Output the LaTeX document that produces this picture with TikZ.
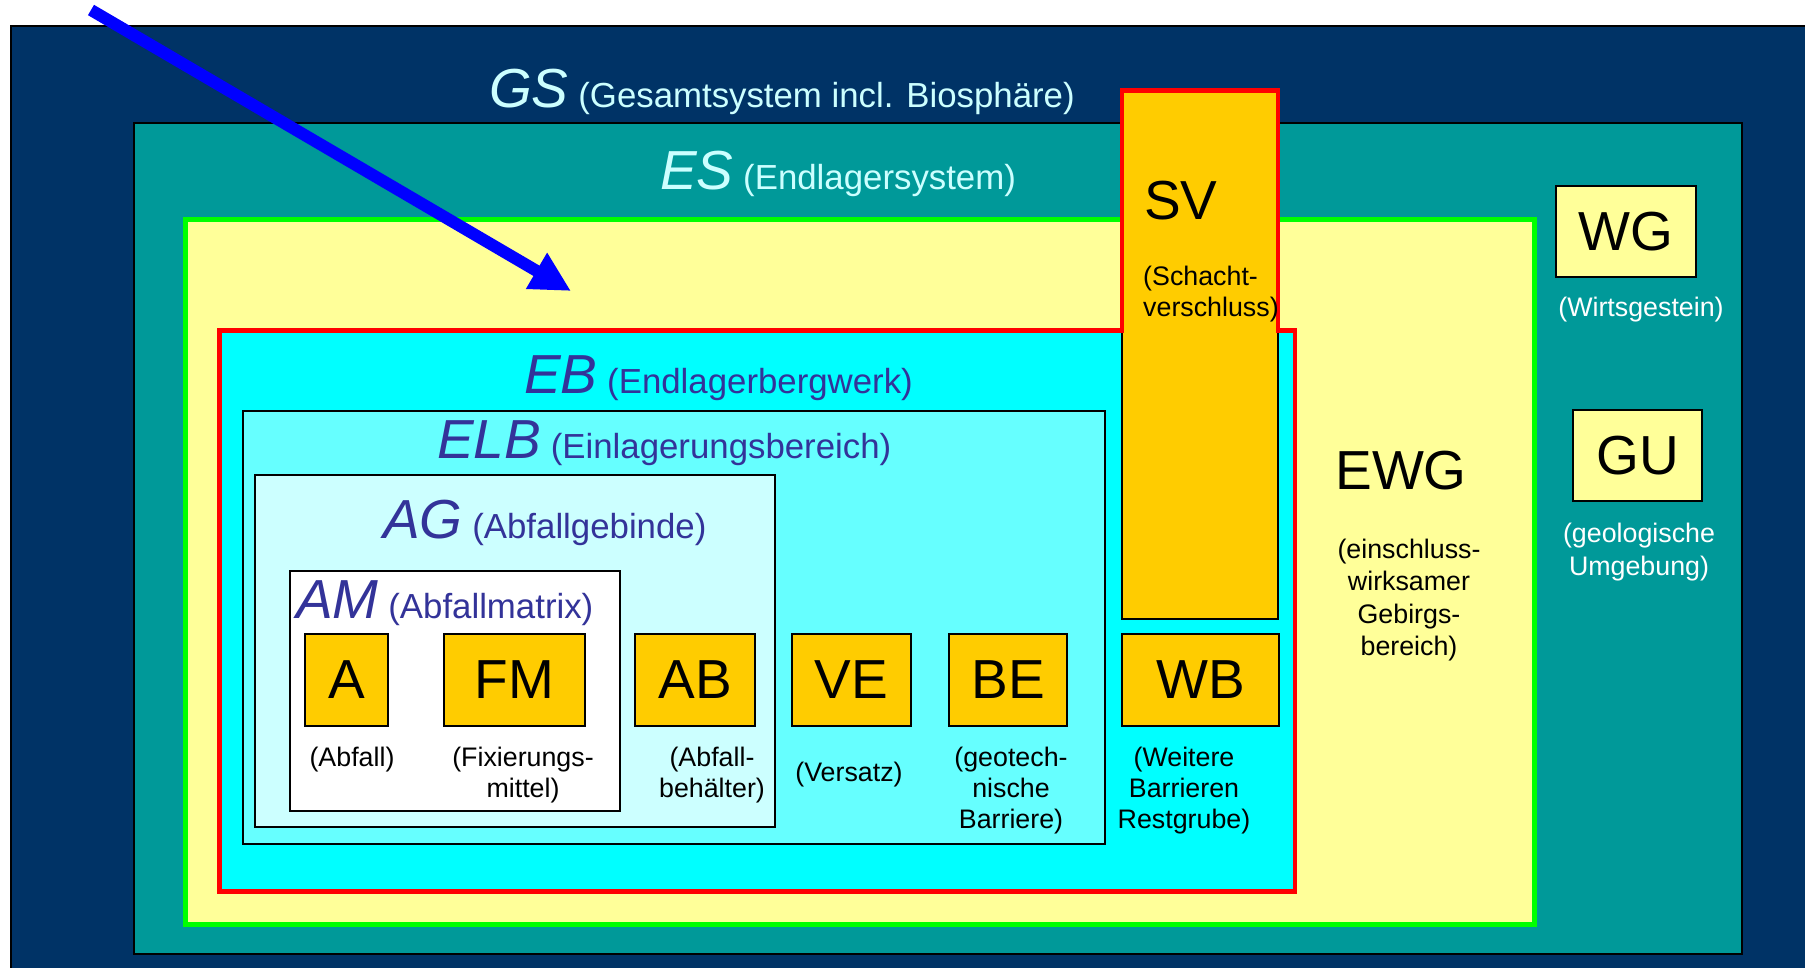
\documentclass[tikz,border=0pt]{standalone}
\usepackage{fontspec}
\setmainfont{Liberation Sans}
\usetikzlibrary{arrows.meta}

\definecolor{gsblue}{HTML}{003366}
\definecolor{esteal}{HTML}{009999}
\definecolor{ewgyellow}{HTML}{FFFF99}
\definecolor{ewggreen}{HTML}{00FF00}
\definecolor{ebred}{HTML}{FF0000}
\definecolor{ebcyan}{HTML}{00FFFF}
\definecolor{elbcyan}{HTML}{66FFFF}
\definecolor{agcyan}{HTML}{CCFFFF}
\definecolor{comporange}{HTML}{FFCC00}
\definecolor{headtext}{HTML}{CCFFFF}
\definecolor{innertext}{HTML}{333399}
\definecolor{arrowblue}{HTML}{0000FF}

\newcommand\lblBig{\fontsize{55}{66}\selectfont}
\newcommand\lblMid{\fontsize{34.8}{41}\selectfont}
\newcommand\lblSmall{\fontsize{26.8}{31}\selectfont}
\newcommand\lblSmallWide{\fontsize{26.8}{32.5}\selectfont}

\tikzset{
  frame/.style={draw=black, line width=2pt},
  comp/.style={draw=black, line width=2pt, fill=comporange, inner sep=0pt,
    font=\lblBig, minimum height=92pt},
  rockbox/.style={draw=black, line width=2pt, fill=ewgyellow, inner sep=0pt,
    font=\lblBig, minimum height=91pt},
  header/.style={anchor=base west, inner sep=0pt, font=\lblMid},
  note/.style={inner sep=0pt, font=\lblSmall, align=center},
  widenote/.style={inner sep=0pt, font=\lblSmallWide, align=center},
}

\begin{document}
\begin{tikzpicture}[x=1pt, y=-1pt]
\useasboundingbox (0,0) rectangle (1805,967);

% Gesamtsystem
\draw[frame, fill=gsblue] (11,26) rectangle (1830,990);
% Endlagersystem
\draw[draw=black, line width=2.5pt, fill=esteal] (134,123) rectangle (1742,954);
% einschlusswirksamer Gebirgsbereich
\draw[draw=ewggreen, line width=5pt, fill=ewgyellow] (185.5,219) rectangle (1534,924);

% Endlagerbergwerk with the shaft reaching upwards
\fill[ebcyan] (219.5,330.5) -- (1122,330.5) -- (1122,90.5) -- (1278,90.5)
  -- (1278,330.5) -- (1295,330.5) -- (1295,891.5) -- (219.5,891.5) -- cycle;
\draw[frame, fill=comporange] (1122,90.5) rectangle (1278,619);
\draw[draw=ebred, line width=4.5pt, line join=miter] (219.5,330.5) -- (1122,330.5)
  -- (1122,90.5) -- (1278,90.5) -- (1278,330.5) -- (1295,330.5) -- (1295,891.5)
  -- (219.5,891.5) -- cycle;

% Einlagerungsbereich, Abfallgebinde, Abfallmatrix
\draw[frame, fill=elbcyan] (243,410.5) rectangle (1105,844);
\draw[frame, fill=agcyan] (255,475) rectangle (775,827);
\draw[frame, fill=white] (289.5,570.5) rectangle (619.5,810.5);

% components
\node[comp, minimum width=83pt]  (A)  at (346.5,680) {A};
\node[comp, minimum width=141pt] (FM) at (514.5,680) {FM};
\node[comp, minimum width=120pt] (AB) at (695,680)   {AB};
\node[comp, minimum width=119pt] (VE) at (851.5,680) {VE};
\node[comp, minimum width=118pt] (BE) at (1008,680)  {BE};
\node[comp, minimum width=157pt] (WB) at (1200.5,680) {WB};
\node[rockbox, minimum width=140pt] (WG) at (1626,231.5) {WG};
\node[rockbox, minimum width=129pt] (GU) at (1637.5,455.5) {GU};

% component descriptions
\node[note] (tA)  at (352,760)  {(Abfall)};
\node[note] (tFM) at (523,775)  {(Fixierungs-\\mittel)};
\node[note] (tAB) at (712,775)  {(Abfall-\\behälter)};
\node[note] (tVE) at (849,775)  {(Versatz)};
\node[note] (tBE) at (1011,791) {(geotech-\\nische\\Barriere)};
\node[note] (tWB) at (1184,791) {(Weitere\\Barrieren\\Restgrube)};
\node[note, text=white] (tWG) at (1641,310) {(Wirtsgestein)};
\node[widenote, text=white] (tGU) at (1639,552) {(geologische\\Umgebung)};

% shaft seal
\node[anchor=base west, inner sep=0pt, font=\lblBig] (SV) at (1144,219) {SV};
\node[note, align=left, anchor=west] (tSV) at (1143,294) {(Schacht-\\verschluss)};

% EWG
\node[inner sep=0pt, font=\lblBig] (EWG) at (1401,471) {EWG};
\node[widenote] (tEWG) at (1409,600) {(einschluss-\\wirksamer\\Gebirgs-\\bereich)};

% system headings
\node[header, text=headtext] (hGS) at (489,107)
  {{\lblBig\itshape GS} (Gesamtsystem incl. Biosphäre)};
\node[header, text=headtext] (hES) at (660,189)
  {{\lblBig\itshape ES} (Endlagersystem)};
\node[header, text=innertext] (hEB) at (524,393)
  {{\lblBig\itshape EB} (Endlagerbergwerk)};
\node[header, text=innertext] (hELB) at (437,458)
  {{\lblBig\itshape ELB} (Einlagerungsbereich)};
\node[header, text=innertext] (hAG) at (383,538)
  {{\lblBig\itshape AG} (Abfallgebinde)};
\node[header, text=innertext] (hAM) at (296,618)
  {{\lblBig\itshape AM} (Abfallmatrix)};

% pointer arrow
\coordinate (arrowtail) at (91,10);
\coordinate (arrowhead) at (571,291);
\draw[arrowblue, line width=12pt, -{Triangle[length=40pt,width=39pt]}]
  (arrowtail) -- (arrowhead);
\end{tikzpicture}
\end{document}
